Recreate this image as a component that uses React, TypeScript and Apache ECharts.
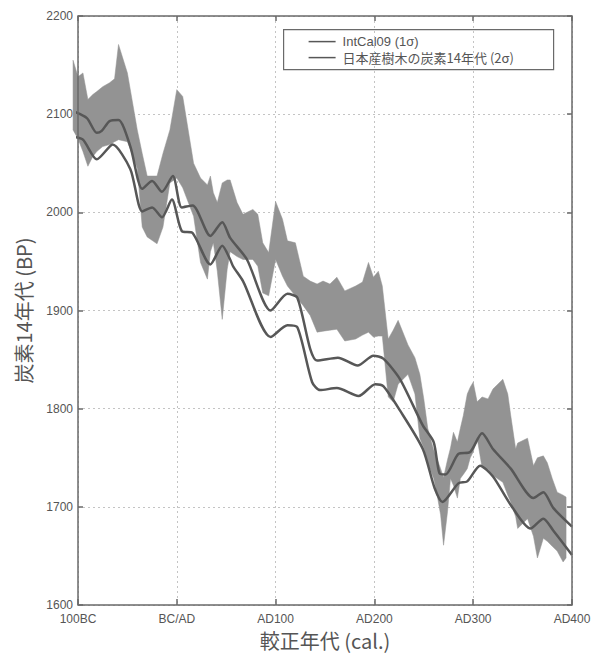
import React, { useEffect, useRef } from "react";
import * as echarts from "echarts";

// x tick labels (calendar years -100 … 400)
const xTickValues = [-100, 0, 100, 200, 300, 400];
const xTickLabels = ["100BC", "BC/AD", "AD100", "AD200", "AD300", "AD400"];

// IntCal09 1σ upper curve
const intcalUpperYears = [-105, -91, -81, -76, -68, -59, -47, -35, -25, -15, -4, 5, 16, 34, 46, 54, 71, 95, 112, 122, 135, 142, 163, 183, 199, 209, 226, 249, 260, 266, 272, 285, 297, 309, 320, 338, 361, 371, 381, 400];
const intcalUpperBP = [2103, 2096, 2081, 2083, 2093, 2094, 2067, 2024, 2032, 2021, 2037, 2005, 2007, 1976, 1990, 1974, 1952, 1900, 1917, 1913, 1861, 1849, 1852, 1844, 1854, 1851, 1830, 1783, 1766, 1734, 1733, 1754, 1756, 1775, 1759, 1739, 1709, 1715, 1699, 1680];

// IntCal09 1σ lower curve
const intcalLowerYears = [-105, -95, -81, -68, -65, -47, -35, -25, -15, -5, 5, 16, 34, 46, 54, 57, 67, 95, 112, 122, 137, 145, 162, 184, 201, 209, 226, 249, 261, 269, 285, 294, 307, 320, 338, 358, 371, 381, 400];
const intcalLowerBP = [2077, 2074, 2054, 2067, 2069, 2044, 2001, 2005, 1995, 2013, 1981, 1979, 1947, 1966, 1952, 1945, 1930, 1873, 1885, 1883, 1827, 1819, 1821, 1813, 1825, 1823, 1798, 1759, 1719, 1705, 1724, 1726, 1742, 1731, 1702, 1678, 1688, 1676, 1651];

// Japanese tree-ring 14C ages, 2σ band
const bandYears = [-105, -100, -95, -90, -85, -81, -75, -68, -63, -59, -50, -40, -35, -30, -20, -14, -7, 0, 6, 17, 24, 31, 34, 37, 41, 46, 51, 54, 61, 67, 77, 82, 87, 93, 100, 107, 112, 120, 128, 135, 142, 148, 155, 162, 170, 181, 188, 194, 199, 204, 208, 214, 219, 224, 234, 241, 246, 250, 254, 260, 263, 267, 270, 274, 277, 280, 284, 287, 290, 294, 297, 300, 304, 309, 315, 320, 330, 335, 338, 343, 345, 355, 361, 365, 371, 375, 380, 385, 391, 394];
const bandUpperBP = [2155, 2138, 2142, 2115, 2120, 2123, 2128, 2132, 2136, 2171, 2142, 2084, 2060, 2037, 2037, 2060, 2084, 2125, 2118, 2050, 2035, 2028, 2037, 2020, 2010, 2030, 2033, 2033, 2010, 1998, 2003, 1998, 1969, 1959, 2011, 1993, 1971, 1969, 1935, 1930, 1927, 1930, 1927, 1934, 1920, 1925, 1929, 1949, 1934, 1940, 1925, 1871, 1880, 1890, 1865, 1852, 1835, 1810, 1780, 1758, 1750, 1739, 1730, 1748, 1760, 1776, 1766, 1780, 1793, 1815, 1822, 1827, 1807, 1812, 1810, 1820, 1830, 1815, 1793, 1759, 1765, 1770, 1742, 1750, 1752, 1745, 1729, 1715, 1712, 1710];
const bandLowerBP = [2084, 2075, 2062, 2047, 2057, 2062, 2067, 2069, 2072, 2074, 2072, 2045, 1985, 1975, 1968, 1985, 2030, 2035, 2025, 1996, 1949, 1932, 1960, 1969, 1940, 1891, 1942, 1960, 1955, 1952, 1952, 1945, 1918, 1915, 1952, 1935, 1925, 1915, 1905, 1895, 1878, 1879, 1880, 1881, 1869, 1871, 1875, 1878, 1873, 1874, 1874, 1812, 1807, 1825, 1835, 1815, 1770, 1760, 1745, 1729, 1715, 1692, 1661, 1695, 1729, 1722, 1709, 1729, 1733, 1739, 1750, 1756, 1770, 1740, 1738, 1732, 1725, 1712, 1705, 1690, 1678, 1688, 1670, 1648, 1668, 1665, 1660, 1655, 1644, 1648];

const legendNames = ["IntCal09 (1σ)", "日本産樹木の炭素14年代 (2σ)"];

const FONT = "'Liberation Sans', 'Noto Sans CJK JP', sans-serif";
const CJK_FONT = "'Noto Sans CJK JP', 'Liberation Sans', sans-serif";

export default function App() {
  const ref = useRef<HTMLDivElement>(null);

  useEffect(() => {
    if (!ref.current) return;
    const chart = echarts.init(ref.current, null, { renderer: "svg" });

    const pairs = (xs: number[], ys: number[]) => xs.map((x, i) => [x, ys[i]]);

    const bandOutline: number[][] = [
      ...bandYears.map((x, i) => [x, bandUpperBP[i]]),
      ...bandYears.map((x, i) => [x, bandLowerBP[i]]).reverse(),
    ];

    const gridDotted = { show: true, lineStyle: { color: "#c4c4c4", type: [2, 3] as any, width: 1 } };
    const tickStyle = { color: "#6a6a6a", width: 1.5 };

    const option: any = {
      animation: false,
      backgroundColor: "#ffffff",
      grid: {
        left: 78,
        right: 24,
        top: 16,
        bottom: 49,
        show: true,
        borderColor: "#6a6a6a",
        borderWidth: 1.5,
        backgroundColor: "transparent",
        z: 5,
      },
      xAxis: [
        {
          type: "value",
          min: -100,
          max: 400,
          interval: 100,
          position: "bottom",
          axisLine: { show: false, onZero: false },
          axisTick: { show: true, inside: true, length: 6, lineStyle: tickStyle },
          axisLabel: {
            color: "#555",
            fontSize: 12,
            fontFamily: FONT,
            margin: 8,
            formatter: (v: number) => xTickLabels[xTickValues.indexOf(v)] ?? "",
          },
          splitLine: gridDotted,
          name: "較正年代 (cal.)",
          nameLocation: "middle",
          nameGap: 24,
          nameTextStyle: { color: "#555", fontSize: 20, fontFamily: CJK_FONT },
        },
        {
          type: "value",
          min: -100,
          max: 400,
          interval: 100,
          position: "top",
          axisLine: { show: false, onZero: false },
          axisTick: { show: true, inside: true, length: 5, lineStyle: tickStyle },
          axisLabel: { show: false },
          splitLine: { show: false },
        },
      ],
      yAxis: [
        {
          type: "value",
          min: 1600,
          max: 2200,
          interval: 100,
          position: "left",
          axisLine: { show: false, onZero: false },
          axisTick: { show: true, inside: true, length: 5, lineStyle: tickStyle },
          axisLabel: { color: "#555", fontSize: 12, fontFamily: FONT, margin: 5, formatter: (v: number) => String(v) },
          splitLine: gridDotted,
          name: "炭素14年代 (BP)",
          nameLocation: "middle",
          nameGap: 45,
          nameRotate: 90,
          nameTextStyle: { color: "#555", fontSize: 20, fontFamily: CJK_FONT },
        },
        {
          type: "value",
          min: 1600,
          max: 2200,
          interval: 100,
          position: "right",
          axisLine: { show: false, onZero: false },
          axisTick: { show: true, inside: true, length: 5, lineStyle: tickStyle },
          axisLabel: { show: false },
          splitLine: { show: false },
        },
      ],
      series: [
        {
          name: legendNames[1],
          type: "custom",
          clip: false,
          silent: true,
          data: [bandOutline[0]],
          renderItem: (params: any, api: any) => {
            if (params.dataIndex !== 0) return null;
            const points = bandOutline.map((p) => api.coord(p));
            return {
              type: "polygon",
              shape: { points },
              style: { fill: "#939393", stroke: "#939393", lineWidth: 0.5 },
            };
          },
          z: 1,
        },
        {
          name: legendNames[0] + " upper",
          type: "line",
          data: pairs(intcalUpperYears, intcalUpperBP),
          symbol: "none",
          smooth: 0.25,
          lineStyle: { width: 2.5, color: "#575757" },
          clip: false,
          silent: true,
          z: 3,
        },
        {
          name: legendNames[0] + " lower",
          type: "line",
          data: pairs(intcalLowerYears, intcalLowerBP),
          symbol: "none",
          smooth: 0.25,
          lineStyle: { width: 2.5, color: "#575757" },
          clip: false,
          silent: true,
          z: 3,
        },
      ],
      graphic: [
        {
          type: "group",
          left: 283,
          top: 29,
          z: 10,
          children: [
            {
              type: "rect",
              shape: { x: 0, y: 0, width: 270, height: 40 },
              style: { fill: "#ffffff", stroke: "#6a6a6a", lineWidth: 1.2 },
            },
            {
              type: "line",
              shape: { x1: 25, y1: 12, x2: 52, y2: 12 },
              style: { stroke: "#575757", lineWidth: 1.5 },
            },
            {
              type: "text",
              x: 59,
              y: 12,
              style: { text: legendNames[0], fill: "#555", fontSize: 13, fontFamily: FONT, verticalAlign: "middle" },
            },
            {
              type: "line",
              shape: { x1: 25, y1: 28, x2: 52, y2: 28 },
              style: { stroke: "#575757", lineWidth: 1.5 },
            },
            {
              type: "text",
              x: 59,
              y: 28,
              style: { text: legendNames[1], fill: "#555", fontSize: 13, fontFamily: CJK_FONT, verticalAlign: "middle" },
            },
          ],
        },
      ],
    };

    chart.setOption(option);
    return () => chart.dispose();
  }, []);

  return (
    <div
      ref={ref}
      style={{ position: "fixed", left: 0, top: 0, width: 596, height: 655, background: "#fff" }}
    />
  );
}
